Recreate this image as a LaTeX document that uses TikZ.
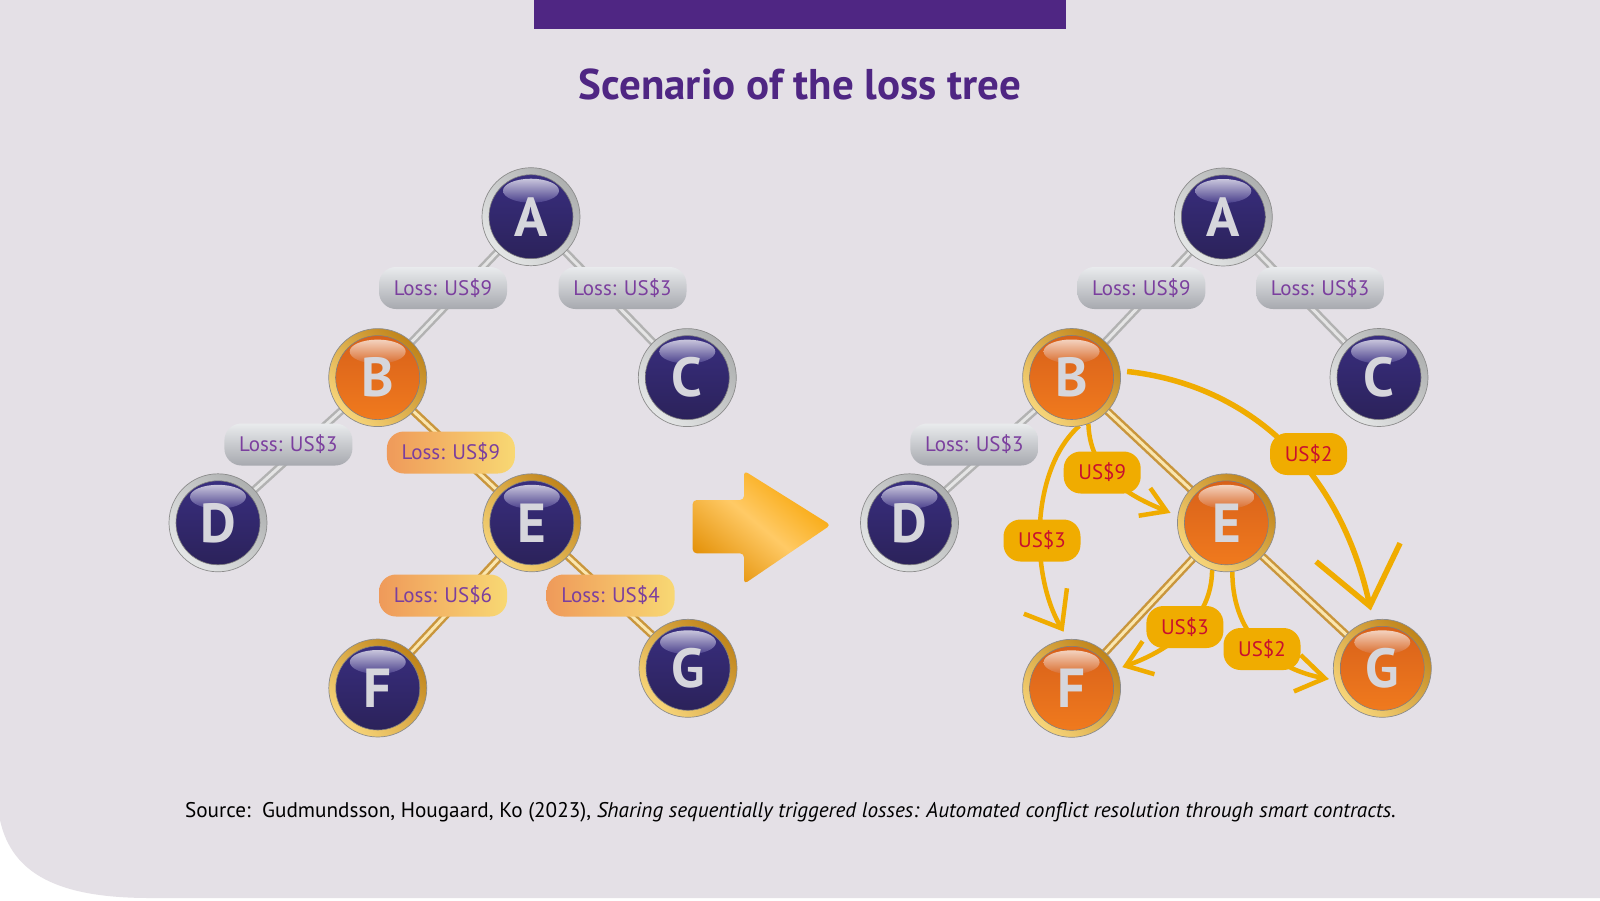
\documentclass[tikz,border=0pt]{standalone}
\usepackage{fontspec}
\setmainfont{PT Sans}
\usetikzlibrary{arrows.meta,calc}
\definecolor{bgc}{HTML}{E4E0E6}
\definecolor{barc}{HTML}{4F2683}
\definecolor{navyT}{HTML}{3A2F82}
\definecolor{navyB}{HTML}{2A2157}
\definecolor{orT}{HTML}{D65F1A}
\definecolor{orB}{HTML}{F27C1E}
\definecolor{silL}{HTML}{AEB0B0}
\definecolor{silR}{HTML}{E4E6E6}
\definecolor{goldL}{HTML}{C0841A}
\definecolor{goldR}{HTML}{F7D57A}
\definecolor{letc}{HTML}{D6D6DC}
\definecolor{labtxt}{HTML}{7B3F9E}
\definecolor{pillT}{HTML}{E9EBED}
\definecolor{pillB}{HTML}{A7A9AF}
\definecolor{pillL}{HTML}{EF9A5A}
\definecolor{pillR}{HTML}{F8D873}
\definecolor{amber}{HTML}{F0AC00}
\definecolor{usred}{HTML}{C8102E}
\definecolor{arrA}{HTML}{F7A300}
\definecolor{arrM}{HTML}{FFCA66}
\definecolor{arrB}{HTML}{E4920A}
\pgfdeclarelayer{back}
\pgfdeclarelayer{edges}
\pgfsetlayers{back,edges,main}
\tikzset{
  ball/.style 2 args={circle, minimum size=98pt, inner sep=0pt, outer sep=0pt,
    text=letc, font=\fontsize{55}{60}\selectfont\bfseries,
    draw=black!45, line width=0.7pt,
    left color=#2L, right color=#2R, shading angle=-45,
    path picture={
      \shade[top color=#1T, bottom color=#1B, draw=black!50, line width=0.6pt]
        (path picture bounding box.center) circle (42pt);
      \shade[top color=white!72!#1T, bottom color=#1T!92!white]
        ($(path picture bounding box.center)+(0,-26)$) ellipse [x radius=28pt, y radius=12pt];
    }},
  navysil/.style={ball={navy}{sil}},
  navygold/.style={ball={navy}{gold}},
  orgold/.style={ball={or}{gold}},
  pill/.style={rectangle, rounded corners=17pt, minimum width=128pt, minimum height=42pt,
    inner sep=0pt, text=labtxt, font=\fontsize{21}{24}\selectfont},
  silpill/.style={pill, top color=pillT, bottom color=pillB},
  orpill/.style={pill, left color=pillL, right color=pillR},
  uspill/.style={rectangle, rounded corners=17pt, minimum width=77pt, minimum height=42pt,
    inner sep=0pt, fill=amber, text=usred, font=\fontsize{21}{24}\selectfont},
  silbar/.style={line width=8pt, draw=black!30, postaction={draw=white!90!black, line width=3pt}},
  goldbar/.style={line width=8pt, draw=goldL!85!white, postaction={draw=goldR!60!white, line width=3pt}},
  flow/.style={draw=amber, line width=4.5pt},
}
\begin{document}
\begin{tikzpicture}[x=1pt,y=-1pt]
\useasboundingbox (0,0) rectangle (1600,900);
\begin{pgfonlayer}{back}
  \fill[white] (0,0) rectangle (1600,900);
  \fill[bgc] (0,0) -- (1600,0) -- (1600,898) -- (150,898)
     .. controls (60,898) and (12,875) .. (0,820) -- cycle;
  \fill[barc] (533.7,0) rectangle (1066,29.3);
\end{pgfonlayer}

\node[text=barc, font=\fontsize{43}{50}\selectfont\bfseries] (title) at (800,84) {Scenario of the loss tree};

% left tree
\node[navysil]  (LA) at (531,216.7) {A};
\node[orgold]   (LB) at (377.7,377.6) {B};
\node[navysil]  (LC) at (687.3,377.6) {C};
\node[navysil]  (LD) at (218,522.8) {D};
\node[navygold] (LE) at (531.8,522.8) {E};
\node[navygold] (LF) at (377.8,688) {F};
\node[navygold] (LG) at (688,668.3) {G};

\node[silpill] (lAB) at (443,288) {Loss: US\$9};
\node[silpill] (lAC) at (622.5,288) {Loss: US\$3};
\node[silpill] (lBD) at (288.4,444.5) {Loss: US\$3};
\node[orpill]  (lBE) at (450.9,452.5) {Loss: US\$9};
\node[orpill]  (lEF) at (443,595.5) {Loss: US\$6};
\node[orpill]  (lEG) at (610.6,595.5) {Loss: US\$4};

% right tree
\node[navysil] (RA) at (1223.3,217) {A};
\node[orgold]  (RB) at (1071.6,377.5) {B};
\node[navysil] (RC) at (1379,377.5) {C};
\node[navysil] (RD) at (909.5,522.8) {D};
\node[orgold]  (RE) at (1226.4,522.8) {E};
\node[orgold]  (RF) at (1071.6,688.3) {F};
\node[orgold]  (RG) at (1382.3,668.3) {G};

\node[silpill] (rAB) at (1141.4,288) {Loss: US\$9};
\node[silpill] (rAC) at (1320,288) {Loss: US\$3};
\node[silpill] (rBD) at (974.3,444.5) {Loss: US\$3};

\node[uspill] (uBE) at (1102.2,472.5) {US\$9};
\node[uspill] (uBF) at (1042,540.5) {US\$3};
\node[uspill] (uBG) at (1308.6,454) {US\$2};
\node[uspill] (uEF) at (1184.9,627) {US\$3};
\node[uspill] (uEG) at (1262,649) {US\$2};

% big arrow
\shade[rounded corners=4pt, left color=arrA, right color=arrB, middle color=arrM, shading angle=-40]
  (692.7,500) -- (744,500) -- (744,470.7) -- (830.7,525) -- (744,584) -- (744,553.3) -- (692.7,553.3) -- cycle;

\node[font=\fontsize{21.2}{25}\selectfont, text=black, inner sep=0pt] (src) at (790.4,812)
  {Source:\ \ Gudmundsson, Hougaard, Ko (2023), \textit{Sharing sequentially triggered losses: Automated conflict resolution through smart contracts.}};

\begin{pgfonlayer}{edges}
  \draw[silbar] (LA.center) -- (LB.center);
  \draw[silbar] (LA.center) -- (LC.center);
  \draw[silbar] (LB.center) -- (LD.center);
  \draw[goldbar] (LB.center) -- (LE.center);
  \draw[goldbar] (LE.center) -- (LF.center);
  \draw[goldbar] (LE.center) -- (LG.center);

  \draw[silbar] (RA.center) -- (RB.center);
  \draw[silbar] (RA.center) -- (RC.center);
  \draw[silbar] (RB.center) -- (RD.center);
  \draw[goldbar] (RB.center) -- (RE.center);
  \draw[goldbar] (RE.center) -- (RF.center);
  \draw[goldbar] (RE.center) -- (RG.center);

  \draw[flow, -{Straight Barb[length=24pt, width=30pt]}, shorten >=8pt]
    (RB.-70) .. controls (1090,480) and (1140,500) .. (RE.172);
  \draw[flow, -{Straight Barb[length=32pt, width=50pt]}, shorten >=9pt]
    (RB.-81) .. controls (1030,470) and (1030,575) .. (RF.94);
  \draw[flow, line width=5.5pt, -{Straight Barb[length=55pt, width=86pt]}, shorten >=10pt, shorten <=7pt]
    (RB.8) .. controls (1250,385) and (1340,470) .. (RG.101);
  \draw[flow, -{Straight Barb[length=24pt, width=35pt]}, shorten >=6pt]
    (RE.-107) .. controls (1212,620) and (1170,650) .. (RF.23);
  \draw[flow, -{Straight Barb[length=28pt, width=37pt]}, shorten >=6pt]
    (RE.-83) .. controls (1232,640) and (1280,670) .. (RG.194);
\end{pgfonlayer}
\end{tikzpicture}
\end{document}
